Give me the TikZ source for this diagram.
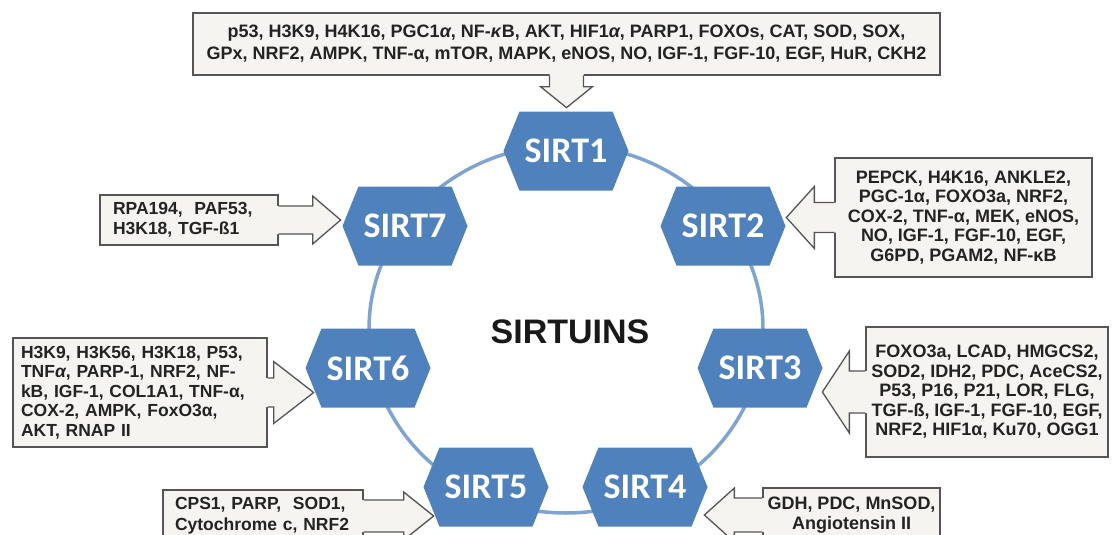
\documentclass[tikz,border=0pt]{standalone}
\usepackage{fontspec}
\setmainfont{Liberation Sans}
\newfontfamily\hexfont{Carlito}
\usepackage{tikz}
\usetikzlibrary{shapes.symbols}

\definecolor{hexblue}{RGB}{79,129,189}
\definecolor{ringblue}{RGB}{128,164,210}
\definecolor{boxfill}{RGB}{246,244,240}
\definecolor{boxline}{RGB}{85,85,85}
\definecolor{boxtext}{RGB}{35,35,35}

\tikzset{
  sirt/.style={signal, signal to=east and west, signal pointer angle=136,
    fill=hexblue, minimum width=125pt, minimum height=79pt, inner sep=0pt,
    text=white, font=\hexfont\bfseries\fontsize{36}{36}\selectfont},
  callbox/.style={draw=boxline, fill=boxfill, line width=1.3pt, text=boxtext,
    font=\bfseries\fontsize{18}{19.5}\selectfont, inner sep=0pt},
  % block arrow of a callout: stem half/wing half/stem length/head length
  pics/blockarrow/.style args={#1/#2/#3/#4}{code={
    \fill[boxfill] (-2,-#1) -- (#3,-#1) -- (#3,-#2) -- (#3+#4,0) -- (#3,#2) -- (#3,#1) -- (-2,#1) -- cycle;
    \draw[boxline, line width=1.3pt] (0,-#1) -- (#3,-#1) -- (#3,-#2) -- (#3+#4,0) -- (#3,#2) -- (#3,#1) -- (0,#1);
  }}
}

\begin{document}
\begin{tikzpicture}[x=1pt, y=-1pt]
  \useasboundingbox (0,0) rectangle (1116,535);
  \clip (0,0) rectangle (1116,535);

  % Ring
  \draw[ringblue, line width=3.5pt] (566,329) ellipse [x radius=197, y radius=184];

  % Sirtuins
  \foreach \n/\x/\y in {1/566/151, 2/723/226, 3/760/368, 4/645/487,
                        5/486/487, 6/368/368, 7/405/226}
    \node[sirt] (s\n) at (\x,\y) {SIRT\n};

  \node[font=\bfseries\fontsize{34}{34}\selectfont, text=black!90] (title) at (570,332) {SIRTUINS};

  % Targets
  \node[callbox, minimum width=747pt, minimum height=62pt, align=center,
        font=\bfseries\fontsize{18}{22}\selectfont] (b1) at (566.5,44)
    {p53, H3K9, H4K16, PGC1\textit{α}, NF-\textit{κ}B, AKT, HIF1\textit{α}, PARP1, FOXOs, CAT, SOD, SOX,\\
     GPx, NRF2, AMPK, TNF-α, mTOR, MAPK, eNOS, NO, IGF-1, FGF-10, EGF, HuR, CKH2};
  \node[callbox, minimum width=257pt, minimum height=119pt, align=center] (b2) at (963.5,217.5)
    {PEPCK, H4K16, ANKLE2,\\ PGC-1α, FOXO3a, NRF2,\\ COX-2, TNF-α, MEK, eNOS,\\
     NO, IGF-1, FGF-10, EGF,\\ G6PD, PGAM2, NF-κB};
  \node[callbox, minimum width=242pt, minimum height=130pt, align=center] (b3) at (987,392)
    {FOXO3a, LCAD, HMGCS2,\\ SOD2, IDH2, PDC, AceCS2,\\ P53, P16, P21, LOR, FLG,\\
     TGF-ß, IGF-1, FGF-10, EGF,\\ NRF2, HIF1α, Ku70, OGG1};
  \node[callbox, minimum width=177pt, minimum height=54pt, align=center] (b4) at (851.5,515)
    {GDH, PDC, MnSOD,\\ Angiotensin II};
  \node[callbox, text width=176pt, inner xsep=12pt, minimum height=52pt, align=left,
        font=\bfseries\fontsize{17.5}{21}\selectfont] (b5) at (263,516)
    {CPS1, PARP,~ SOD1,\\ Cytochrome c, NRF2};
  \node[callbox, text width=238pt, inner xsep=8pt, minimum height=109pt, align=left,
        font=\bfseries\fontsize{17.5}{19.5}\selectfont] (b6) at (140,392.5)
    {H3K9, H3K56, H3K18, P53,\\ TNF\textit{α}, PARP-1, NRF2, NF-\\ kB, IGF-1, COL1A1, TNF-α,\\
     COX-2, AMPK, FoxO3α,\\ AKT, RNAP II};
  \node[callbox, text width=152pt, inner xsep=13pt, minimum height=50pt, align=left,
        font=\bfseries\fontsize{17.5}{20}\selectfont] (b7) at (189,220)
    {RPA194,~ PAF53,\\ H3K18, TGF-ß1};

  % Block arrows
  \pic[rotate=-90] at (b1.south) {blockarrow=17/26/11/21};
  \pic[rotate=180] at (b2.west) {blockarrow=15/31/20/28};
  \pic[rotate=180] at (b3.west) {blockarrow=21/41/16/27};
  \pic[rotate=180] at (b4.west) {blockarrow=17/27/28/30};
  \pic at (b5.east) {blockarrow=16/24/40/30};
  \pic at (b6.east) {blockarrow=14.5/31/6/40};
  \pic at (b7.east) {blockarrow=14/24/34/28};
\end{tikzpicture}
\end{document}
